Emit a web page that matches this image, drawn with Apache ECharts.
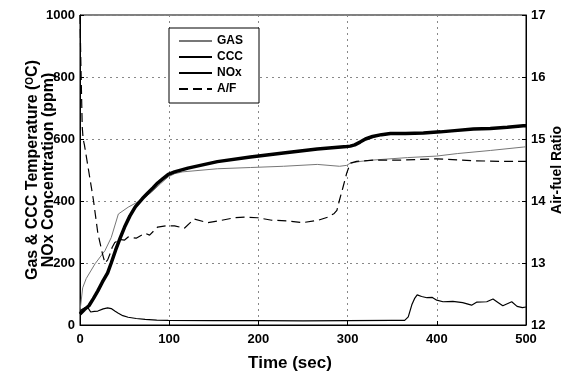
<!DOCTYPE html>
<html>
<head>
<meta charset="utf-8">
<script src="https://cdn.jsdelivr.net/npm/echarts@6/dist/echarts.min.js"></script>
<style>html,body{margin:0;padding:0;background:#fff}#c{width:579px;height:374px}</style>
</head>
<body>
<div id="c"></div>
<script>
// Time ticks
const xTicks = [0, 100, 200, 300, 400, 500];
const leftTicks = [0, 200, 400, 600, 800, 1000];
const rightTicks = [12, 13, 14, 15, 16, 17];

// GAS temperature (°C)
const gasT = [0, 3, 7, 17, 28, 35, 43, 54, 68, 80, 90, 99, 106, 115, 154, 191, 228, 266, 291, 299, 303, 315, 328, 367, 400, 423, 460, 497, 500];
const gasV = [45, 120, 150, 198, 240, 282, 358, 380, 402, 428, 455, 478, 488, 494, 504, 508, 512, 518, 512, 515, 522, 528, 532, 540, 545, 553, 563, 574, 575];

// CCC temperature (°C)
const cccT = [0, 5, 10, 15, 20, 25, 31, 35, 40, 45, 50, 56, 62, 70, 76, 82, 87, 93, 99, 106, 121, 154, 191, 228, 266, 299, 303, 308, 314, 320, 328, 338, 348, 365, 385, 404, 420, 441, 460, 479, 497, 500];
const cccV = [35, 50, 62, 85, 110, 138, 168, 200, 242, 280, 316, 352, 381, 408, 426, 443, 458, 472, 486, 494, 506, 527, 542, 555, 568, 576, 577, 581, 590, 600, 608, 614, 618, 618, 619, 623, 627, 632, 634, 638, 643, 643];

// NOx concentration (ppm)
const noxT = [0, 1, 5, 9, 12, 16, 20, 26, 31, 35, 39, 43, 48, 54, 63, 73, 86, 99, 150, 200, 250, 300, 350, 364, 368, 372, 375, 378, 383, 389, 395, 400, 407, 418, 429, 439, 445, 456, 463, 469, 474, 484, 490, 496, 500];
const noxV = [40, 48, 55, 55, 42, 44, 45, 52, 55, 53, 45, 38, 30, 25, 21, 18, 16, 15, 14, 14, 13, 14, 15, 15, 26, 65, 85, 97, 92, 88, 89, 80, 75, 76, 72, 64, 74, 75, 84, 72, 62, 75, 60, 56, 58];

// Air-fuel ratio
const afT = [0, 1, 2.5, 3.5, 5, 9, 15, 20, 25, 28, 31, 34, 36, 39, 45, 50, 54, 63, 73, 78, 87, 96, 106, 117, 128, 143, 159, 173, 185, 199, 215, 233, 249, 267, 278, 285, 288, 291, 295, 299, 303, 310, 330, 360, 400, 440, 470, 500];
const afV = [17.0, 16.2, 15.2, 15.0, 14.9, 14.55, 14.02, 13.48, 13.16, 13.0, 13.05, 13.16, 13.25, 13.33, 13.38, 13.37, 13.42, 13.40, 13.48, 13.45, 13.58, 13.60, 13.60, 13.56, 13.71, 13.65, 13.69, 13.73, 13.74, 13.73, 13.69, 13.68, 13.65, 13.69, 13.74, 13.80, 13.85, 14.02, 14.23, 14.45, 14.61, 14.64, 14.66, 14.66, 14.68, 14.65, 14.64, 14.64];

const zip = (a, b) => a.map((t, i) => [t, b[i]]);
const F = '"Liberation Sans", Arial, sans-serif';
const gridLine = {show: true, lineStyle: {color: '#888', type: [2, 4], width: 1, opacity: 1}};

const chart = echarts.init(document.getElementById('c'), null, {renderer: 'canvas'});
chart.setOption({
  animation: false,
  backgroundColor: '#fff',
  textStyle: {fontFamily: F},
  grid: {left: 80, right: 53, top: 15, bottom: 49, show: true, borderColor: '#000', borderWidth: 1, backgroundColor: 'transparent', outerBoundsMode: 'none', containLabel: false},
  legend: {
    left: 169, top: 28, orient: 'vertical',
    itemWidth: 33, itemHeight: 10, itemGap: 4,
    padding: [7, 16, 8, 9],
    borderColor: '#000', borderWidth: 1, backgroundColor: '#fff',
    itemStyle: {opacity: 0},
    textStyle: {fontFamily: F, fontWeight: 'bold', fontSize: 12, color: '#000'},
    data: ['GAS', 'CCC', 'NOx', 'A/F']
  },
  xAxis: {
    type: 'value', min: xTicks[0], max: xTicks[xTicks.length - 1], interval: 100,
    name: 'Time (sec)', nameLocation: 'middle', nameGap: 30, nameMoveOverlap: false,
    nameTextStyle: {fontFamily: F, fontWeight: 'bold', fontSize: 17, color: '#000', padding: [0, 26, 0, 0]},
    axisLine: {lineStyle: {color: '#000'}},
    axisTick: {inside: true, length: 4, lineStyle: {color: '#000'}},
    axisLabel: {fontFamily: F, fontWeight: 'bold', fontSize: 13, color: '#000', margin: 8},
    splitLine: gridLine
  },
  yAxis: [{
    type: 'value', min: leftTicks[0], max: leftTicks[leftTicks.length - 1], interval: 200,
    name: 'Gas & CCC Temperature ({sup|O}C)\nNOx Concentration (ppm)',
    nameLocation: 'middle', nameGap: 23, nameMoveOverlap: false,
    nameTextStyle: {
      fontFamily: F, fontWeight: 'bold', fontSize: 16, color: '#000', lineHeight: 16,
      rich: {sup: {fontFamily: F, fontWeight: 'bold', fontSize: 10, verticalAlign: 'top', lineHeight: 16, color: '#000'}}
    },
    axisLine: {show: true, lineStyle: {color: '#000'}},
    axisTick: {show: true, inside: true, length: 4, lineStyle: {color: '#000'}},
    axisLabel: {fontFamily: F, fontWeight: 'bold', fontSize: 13, color: '#000', margin: 5, formatter: v => String(v)},
    splitLine: gridLine
  }, {
    type: 'value', min: rightTicks[0], max: rightTicks[rightTicks.length - 1], interval: 1,
    position: 'right',
    name: 'Air-fuel Ratio', nameLocation: 'middle', nameGap: 24, nameRotate: 90, nameMoveOverlap: false,
    nameTextStyle: {fontFamily: F, fontWeight: 'bold', fontSize: 14, color: '#000'},
    axisLine: {show: true, lineStyle: {color: '#000'}},
    axisTick: {show: true, inside: true, length: 4, lineStyle: {color: '#000'}},
    axisLabel: {fontFamily: F, fontWeight: 'bold', fontSize: 13, color: '#000', margin: 5},
    splitLine: {show: false}
  }],
  series: [
    {name: 'GAS', type: 'line', yAxisIndex: 0, symbol: 'none', data: zip(gasT, gasV),
     lineStyle: {color: '#777', width: 1}, itemStyle: {color: '#777'}},
    {name: 'CCC', type: 'line', yAxisIndex: 0, symbol: 'none', data: zip(cccT, cccV),
     lineStyle: {color: '#000', width: 3.5}, itemStyle: {color: '#000'}},
    {name: 'NOx', type: 'line', yAxisIndex: 0, symbol: 'none', data: zip(noxT, noxV),
     lineStyle: {color: '#000', width: 1.2}, itemStyle: {color: '#000'}},
    {name: 'A/F', type: 'line', yAxisIndex: 1, symbol: 'none', data: zip(afT, afV),
     lineStyle: {color: '#000', width: 1.2, type: [9, 5]}, itemStyle: {color: '#000'}}
  ]
});
</script>
</body>
</html>
